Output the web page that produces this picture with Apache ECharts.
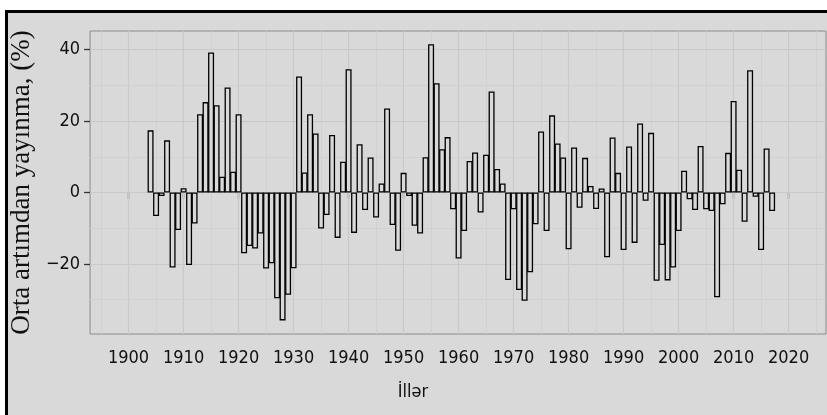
<!DOCTYPE html>
<html>
<head>
<meta charset="utf-8">
<script src="https://cdn.jsdelivr.net/npm/echarts@6/dist/echarts.min.js"></script>
<style>
  html, body { margin: 0; padding: 0; background: #ffffff; }
  #frame { position: absolute; left: 5px; top: 10px; width: 840px; height: 420px;
           border-left: 3px solid #000; border-top: 3px solid #000; background: #d9d9d9; }
  #chart { position: absolute; left: 0; top: 0; width: 827px; height: 415px; }
</style>
</head>
<body>
<div id="frame"></div>
<div id="chart"></div>
<script>
const years = [];
for (let y = 1904; y <= 2017; y++) years.push(y);

const values = [
  17.4, -6.6, -1.0, 14.6, -21.0, -10.5,
  1.2, -20.3, -8.7, 21.9, 25.3, 39.2, 24.4, 4.4, 29.4, 5.8,
  21.9, -17.0, -15.0, -15.7, -11.5, -21.3, -19.8, -29.6, -35.8, -28.6,
  -21.2, 32.5, 5.6, 21.9, 16.5, -10.1, -6.3, 16.1, -12.7, 8.6,
  34.5, -11.3, 13.5, -4.9, 9.8, -7.0, 2.5, 23.5, -9.1, -16.3,
  5.5, -1.0, -9.3, -11.5, 9.9, 41.5, 30.6, 12.1, 15.5, -4.7,
  -18.5, -10.8, 8.8, 11.2, -5.6, 10.6, 28.3, 6.6, 2.5, -24.5,
  -4.7, -27.3, -30.3, -22.3, -8.9, 17.1, -10.8, 21.6, 13.7, 9.8,
  -15.9, 12.6, -4.3, 9.7, 1.8, -4.6, 1.1, -18.1, 15.4, 5.5,
  -16.1, 12.9, -14.1, 19.3, -2.3, 16.7, -24.7, -14.7, -24.6, -21.0,
  -10.8, 6.1, -1.9, -4.9, 13.0, -4.7, -5.2, -29.3, -3.3, 11.1,
  25.6, 6.4, -8.2, 34.2, -1.2, -16.1, 12.3, -5.2
];

const xTicks = [1900, 1910, 1920, 1930, 1940, 1950, 1960, 1970, 1980, 1990, 2000, 2010, 2020];
const xMinorGrid = [1895, 1905, 1915, 1925, 1935, 1945, 1955, 1965, 1975, 1985, 1995, 2005, 2015, 2025];
const yTicks = [-20, 0, 20, 40];
const yMinorGrid = [-30, -10, 10, 30];

const labelFont = '"DejaVu Sans Condensed", "Liberation Sans Narrow", sans-serif';

const chart = echarts.init(document.getElementById('chart'));
const gridLines = [];
const major = { color: '#c9c9c9', width: 1.1, type: 'solid' };
const minor = { color: '#cfcfcf', width: 0.8, type: 'solid' };
xTicks.forEach(v => gridLines.push({ xAxis: v, lineStyle: major }));
xMinorGrid.forEach(v => gridLines.push({ xAxis: v, lineStyle: minor }));
yTicks.forEach(v => gridLines.push({ yAxis: v, lineStyle: major }));
yMinorGrid.forEach(v => gridLines.push({ yAxis: v, lineStyle: minor }));

chart.setOption({
  animation: false,
  backgroundColor: 'transparent',
  grid: {
    left: 88, top: 31, right: 1, bottom: 81,
    show: true, borderColor: '#8c8c8c', borderWidth: 1, backgroundColor: 'transparent'
  },
  xAxis: {
    type: 'value', min: 1893, max: 2026.8,
    axisLine: { show: false },
    axisTick: { show: true, customValues: xTicks, length: 6, lineStyle: { color: '#333', width: 1.3 } },
    axisLabel: { customValues: xTicks, margin: 15, fontSize: 18, fontFamily: labelFont, color: '#111',
                 formatter: v => String(v) },
    splitLine: { show: false },
    name: 'İllər', nameLocation: 'middle', nameGap: 49,
    nameTextStyle: { fontSize: 18, fontFamily: labelFont, color: '#111', padding: [0, 90, 0, 0] }
  },
  yAxis: {
    type: 'value', min: -39.6, max: 45.2,
    axisLine: { show: false },
    axisTick: { show: true, customValues: yTicks, length: 6, lineStyle: { color: '#333', width: 1.3 } },
    axisLabel: { customValues: yTicks, margin: 10, fontSize: 18, fontFamily: labelFont, color: '#111',
                 formatter: v => String(v).replace('-', '\u2212') },
    splitLine: { show: false },
    name: 'Orta artımdan yayınma, (%)', nameLocation: 'middle', nameRotate: 90, nameGap: 34,
    nameTextStyle: { fontSize: 27, fontFamily: '"Liberation Serif", "DejaVu Serif", serif', color: '#111' }
  },
  series: [{
    type: 'bar',
    data: years.map((y, i) => [y, values[i]]),
    barWidth: 6,
    barMaxWidth: 10,
    itemStyle: { color: '#d9d9d9', borderColor: '#000', borderWidth: 1.3 },
    markLine: {
      silent: true, symbol: 'none', z: 1, animation: false,
      label: { show: false },
      emphasis: { disabled: true },
      data: gridLines
    }
  }]
});
</script>
</body>
</html>
